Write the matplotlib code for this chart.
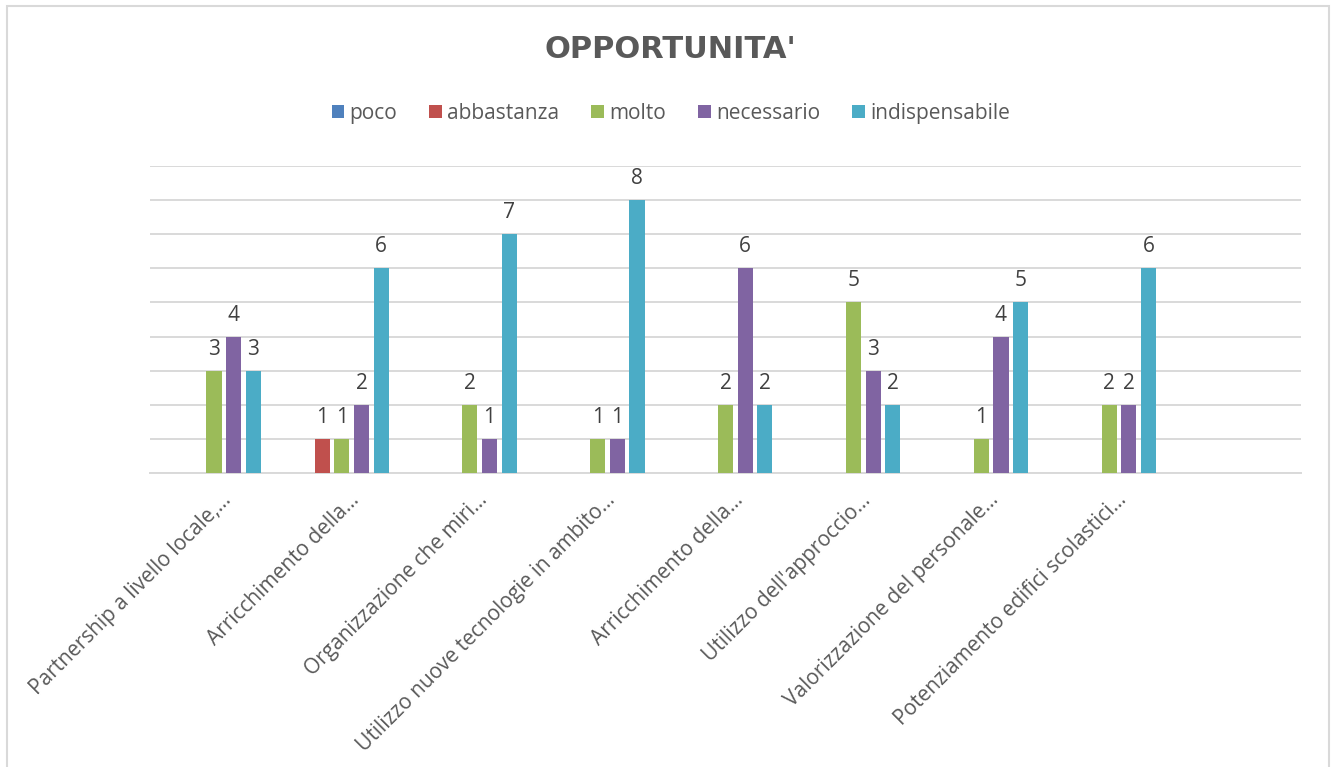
import numpy as np
import matplotlib.pyplot as plt
import matplotlib.transforms as mtransforms
from matplotlib.patches import Rectangle

plt.rcParams.update({
    "font.family": ["Open Sans", "DejaVu Sans"],
    "figure.dpi": 100,
})

GREY_TXT = "#595959"
LABEL_TXT = "#404040"
GRID = "#D9D9D9"

categories = [
    "Partnership a livello locale,…",
    "Arricchimento della…",
    "Organizzazione che miri…",
    "Utilizzo nuove tecnologie in ambito…",
    "Arricchimento della…",
    "Utilizzo dell'approccio…",
    "Valorizzazione del personale…",
    "Potenziamento edifici scolastici…",
    "",
]
series_names = ["poco", "abbastanza", "molto", "necessario", "indispensabile"]
colors = ["#4F81BD", "#C0504D", "#9BBB59", "#8064A2", "#4BACC6"]

poco = [0, 0, 0, 0, 0, 0, 0, 0, 0]
abbastanza = [0, 1, 0, 0, 0, 0, 0, 0, 0]
molto = [3, 1, 2, 1, 2, 5, 1, 2, 0]
necessario = [4, 2, 1, 1, 6, 3, 4, 2, 0]
indispensabile = [3, 6, 7, 8, 2, 2, 5, 6, 0]
values = [poco, abbastanza, molto, necessario, indispensabile]

fig = plt.figure(figsize=(13.36, 7.67))
ax = fig.add_axes([0.1123, 0.3833, 0.8615, 0.4003])

x = np.arange(len(categories))
pitch = 0.154
width = 0.118
for i, (name, vals, c) in enumerate(zip(series_names, values, colors)):
    xs = x + (i - 2) * pitch
    ax.bar(xs, vals, width, color=c, label=name, zorder=3)
    for xi, v in zip(xs, vals):
        if v > 0:
            ax.annotate(f"{v}", (xi, v), xytext=(0, 11.5), textcoords="offset points",
                        ha="center", va="baseline", fontsize=15, color=LABEL_TXT)

ax.set_xlim(-0.5, len(categories) - 0.5)
ax.set_ylim(0, 9)
ax.set_yticks(np.arange(0, 10))
ax.yaxis.grid(True, color=GRID, lw=1.4, zorder=0)
ax.tick_params(axis="y", left=False, labelleft=False)
ax.tick_params(axis="x", length=0, pad=12)
for s in ["top", "right", "left"]:
    ax.spines[s].set_visible(False)
ax.spines["bottom"].set_color(GRID)
ax.spines["bottom"].set_linewidth(1.4)
ax.set_xticks(x)
ax.set_xticklabels(categories, rotation=45, ha="right", rotation_mode="anchor",
                   fontsize=15, color=GREY_TXT)
shift = mtransforms.ScaledTranslation(0.07, 0, fig.dpi_scale_trans)
for lbl in ax.get_xticklabels():
    lbl.set_transform(lbl.get_transform() + shift)

fig.text(0.502, 0.935, "OPPORTUNITA'", ha="center", va="center",
         fontsize=22, fontweight="bold", color=GREY_TXT,
         family=["Liberation Sans Narrow", "DejaVu Sans"])

fig.legend(loc="center", bbox_to_anchor=(0.502, 0.852), ncol=5, frameon=False,
           fontsize=15, handlelength=0.6, handleheight=0.6, handletextpad=0.25,
           columnspacing=1.55, labelcolor=GREY_TXT)

fig.patches.append(Rectangle((0.0052, -0.02), 0.9896, 1.0122, transform=fig.transFigure,
                             fill=False, edgecolor=GRID, lw=1.5))

fig.savefig("out.png", dpi=100)
